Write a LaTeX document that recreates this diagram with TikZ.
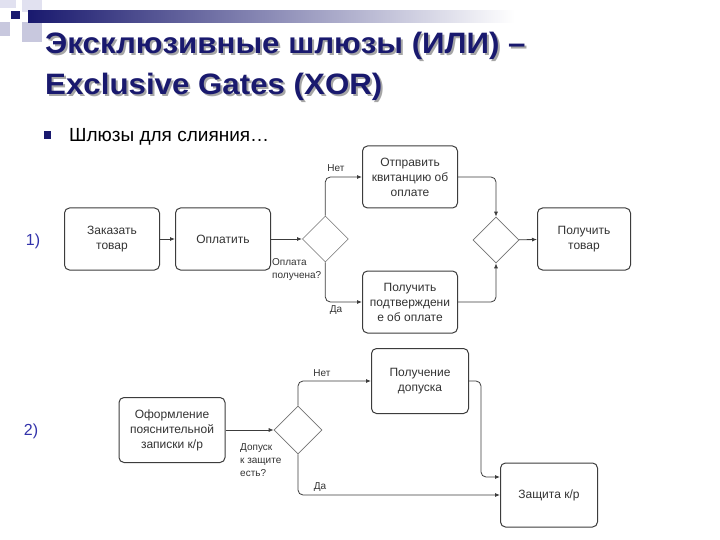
\documentclass[tikz,border=0pt]{standalone}
\usepackage{fontspec}
\setmainfont{Liberation Sans}
\newfontfamily\headfont[FakeStretch=1.06]{Liberation Sans}
\usetikzlibrary{arrows.meta, positioning, shapes.geometric}
\definecolor{titleblue}{RGB}{25,25,110}
\definecolor{numblue}{RGB}{50,50,170}
\definecolor{linegray}{RGB}{60,60,60}
\definecolor{tilelight}{RGB}{225,225,240}
\definecolor{tilemid}{RGB}{200,200,222}
% title text with a grey drop shadow
\newcommand{\shadowed}[1]{\makebox[0pt][l]{\hspace{2pt}\raisebox{-2pt}{\textcolor{black!35}{#1}}}#1}

\begin{document}
\begin{tikzpicture}[
    x=1pt, y=-1pt,
    font=\fontsize{12}{15}\selectfont,
    box/.style={rectangle, draw=linegray, line width=1pt, rounded corners=5pt, minimum width=95pt, minimum height=62pt, align=center, text=black!80, inner sep=2pt},
    gate/.style={diamond, draw=black!55, line width=0.6pt, minimum width=46pt, minimum height=46pt, inner sep=0pt},
    arrow/.style={-{Latex[length=5pt, width=4pt]}, line width=0.8pt, draw=linegray, rounded corners=5pt},
    lbl/.style={font=\fontsize{10}{13}\selectfont, text=black!80, inner sep=0pt, align=left},
    title/.style={font=\headfont\bfseries\fontsize{29.5}{35}\selectfont, text=titleblue, anchor=base west, inner sep=0pt}
  ]
    \useasboundingbox[fill=white] (0,0) rectangle (720,540);

    % slide header
    \fill[tilelight] (0,0) rectangle (16,8);
    \fill[tilelight] (22,0) rectangle (42,12);
    \fill[tilemid] (0,22) rectangle (10,36);
    \fill[tilemid] (22,22) rectangle (42,42);
    \shade[left color=titleblue, right color=white] (28,11) rectangle (515,23);
    \fill[titleblue] (11,11) rectangle (20,19);

    \node[title] (head1) at (45,54) {\shadowed{Эксклюзивные шлюзы (ИЛИ) –}};
    \node[title] (head2) at (45,95) {\shadowed{Exclusive Gates (XOR)}};

    \fill[titleblue] (44,131) rectangle (51,139);
    \node[anchor=base west, inner sep=0pt, font=\fontsize{19}{22}\selectfont] (merge-text) at (69,142) {Шлюзы для слияния…};

    \node[text=numblue, font=\fontsize{16}{19}\selectfont] (case1) at (33,241) {1)};
    \node[text=numblue, font=\fontsize{16}{19}\selectfont] (case2) at (31,431) {2)};

    % 1) payment
    \node[box] (order) at (112,239) {Заказать\\товар};
    \node[box, right=15pt of order] (pay) {Оплатить};
    \node[gate, right=31pt of pay] (split) {};
    \node[box] (send) at (410,177) {Отправить\\квитанцию об\\оплате};
    \node[box] (confirm) at (410,302) {Получить\\подтверждени\\е об оплате};
    \node[gate] (merge) at (496,240) {};
    \node[box, minimum width=93pt] (get) at (584,239) {Получить\\товар};

    \node[lbl] (no1) at (336,168) {Нет};
    \node[lbl] (yes1) at (336,310) {Да};
    \node[lbl, anchor=north west] (ask1) at (272,258) {Оплата\\получена?};

    \draw[arrow] (order) -- (pay);
    \draw[arrow] (pay) -- (split);
    \draw[arrow] (split.north) |- (send);
    \draw[arrow] (split.south) |- (confirm);
    \draw[arrow] (send) -| (merge.north);
    \draw[arrow] (confirm) -| (merge.south);
    \draw[arrow] (merge) -- (get);

    % 2) defence
    \node[box, minimum width=106pt, minimum height=65pt] (memo) at (172,430) {Оформление\\пояснительной\\записки к/р};
    \node[gate, minimum width=48pt, minimum height=48pt] (check) at (298,430) {};
    \node[box, minimum width=97pt, minimum height=65pt] (admit) at (420,381) {Получение\\допуска};
    \node[box, minimum width=97pt, minimum height=64pt] (defend) at (549,495) {Защита к/р};

    \node[lbl] (no2) at (322,373) {Нет};
    \node[lbl] (yes2) at (320,487) {Да};
    \node[lbl, anchor=north west] (ask2) at (240,443) {Допуск\\к защите\\есть?};

    \draw[arrow] (memo) -- (check);
    \draw[arrow] (check.north) |- (admit);
    \draw[arrow] (check.south) |- (defend);
    \draw[arrow] (admit.east) -- ++(12,0) |- ([yshift=18pt]defend.west);
  \end{tikzpicture}
\end{document}
